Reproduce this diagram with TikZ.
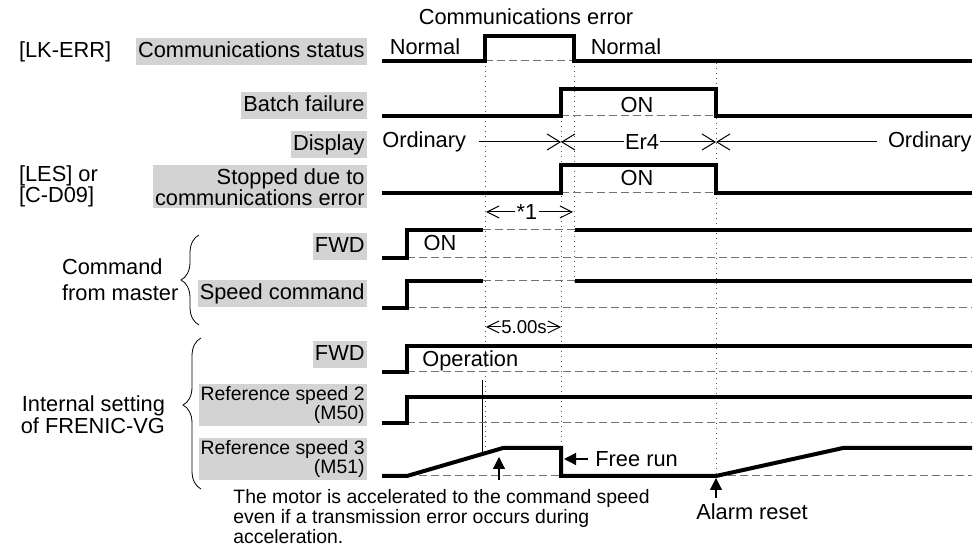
\documentclass[tikz,border=0pt]{standalone}
\usepackage{fontspec}
\setmainfont{Liberation Sans}
\usetikzlibrary{arrows.meta,decorations.pathreplacing}
\definecolor{labelgray}{RGB}{211,211,211}

\begin{document}
\begin{tikzpicture}[x=0.5pt,y=-0.5pt, %1 unit = 1 pixel of the sheet
  font=\fontsize{10.9}{12}\selectfont,
  >={Straight Barb[length=6.5pt,width=8pt]},
  sig/.style={line width=2pt},
  lvl/.style={gray!90!black, line width=0.5pt, dash pattern=on 4pt off 2pt},
  tmark/.style={gray!60!black, line width=0.5pt, dotted},
  lab/.style={fill=labelgray, inner xsep=1pt, inner ysep=1.5pt, anchor=east},
  lab1/.style={lab, text height=0.8em, text depth=0.25em},
  dimline/.style={line width=0.5pt, -{Straight Barb[length=6pt,width=6pt]}},
  note/.style={line width=0.6pt, -{Triangle[length=6pt,width=6pt]}}]
  \useasboundingbox (0,0) rectangle (976,549);

  % Timing marks
  \draw[tmark] (485,61) -- (485,452);
  \draw[tmark] (574,61) -- (574,283);
  \draw[tmark] (561,116) -- (561,448);
  \draw[tmark] (716,63) -- (716,476);
  \draw[line width=0.5pt] (482,380) -- (482,454);

  % Left-hand names
  \node[anchor=west] (lkerr) at (12,52) {[LK-ERR]};
  \node[anchor=west, align=left, font=\fontsize{10.9}{10.5}\selectfont] (les) at (12,186) {[LES] or\\{}[C-D09]};
  \node[lab1] (comm) at (367,52) {Communications status};
  \node[lab1] (batch) at (367,106) {Batch failure};
  \node[lab1] (disp) at (367,145) {Display};
  \node[lab, align=right, font=\fontsize{10.9}{10.5}\selectfont] (stop) at (367,187) {Stopped due to\\communications error};
  \node[lab1] (fwdm) at (367,247) {FWD};
  \node[lab1] (spdm) at (367,294) {Speed command};
  \node[lab1] (fwdi) at (367,355) {FWD};
  \node[lab, align=right, font=\fontsize{9.7}{9.2}\selectfont] (ref2) at (367,405) {Reference speed 2\\(M50)};
  \node[lab, align=right, font=\fontsize{9.7}{9.2}\selectfont] (ref3) at (367,459) {Reference speed 3\\(M51)};

  % Groups
  \draw[decorate, decoration={brace, amplitude=9pt}] (199,325) -- (199,235);
  \node[anchor=west, align=left, font=\fontsize{10.9}{13}\selectfont] (master) at (55,280) {Command\\from master};
  \draw[decorate, decoration={brace, amplitude=9pt, aspect=0.556}] (201,489) -- (201,338);
  \node[anchor=east, align=right, font=\fontsize{10.9}{11}\selectfont] (internal) at (172,415) {Internal setting\\of FRENIC-VG};

  % Communications status
  \node (commerr) at (526,17) {Communications error};
  \draw[lvl] (485,61) -- (574,61);
  \draw[sig] (382,61) -- (485,61) -- (485,36) -- (574,36) -- (574,61) -- (972,61);
  \node (norm1) at (425,47) {Normal};
  \node (norm2) at (626,47) {Normal};

  % Batch failure
  \draw[lvl] (561,116) -- (716,116);
  \draw[sig] (382,116) -- (561,116) -- (561,89) -- (716,89) -- (716,116) -- (972,116);
  \node (bon) at (637,105) {ON};

  % Display
  \node[anchor=west, inner xsep=0pt] (ord1) at (382,142) {Ordinary};
  \node[inner sep=0.5pt] (er4) at (642,142) {Er4};
  \node[anchor=east, inner xsep=0pt] (ord2) at (972,142) {Ordinary};
  \coordinate (d1) at (561,142);
  \coordinate (d2) at (716,142);
  \draw[->, line width=0.5pt, shorten <=6.5pt] (ord1.east) -- (d1);
  \draw[->, line width=0.5pt] (er4) -- (d1);
  \draw[->, line width=0.5pt] (er4) -- (d2);
  \draw[->, line width=0.5pt, shorten <=5.5pt] (ord2.west) -- (d2);

  % Stopped due to communications error
  \draw[lvl] (561,193) -- (716,193);
  \draw[sig] (382,193) -- (561,193) -- (561,165) -- (716,165) -- (716,193) -- (972,193);
  \node (son) at (637,178) {ON};

  % *1
  \node[inner sep=0.5pt] (star) at (527,212) {*1};
  \coordinate (s1l) at (486,212);
  \coordinate (s1r) at (573,212);
  \draw[dimline] (star) -- (s1l);
  \draw[dimline] (star) -- (s1r);

  % FWD from master
  \draw[lvl] (407,258) -- (972,258);
  \draw[lvl] (483,230) -- (575,230);
  \draw[sig] (382,258) -- (407,258) -- (407,230) -- (483,230);
  \draw[sig] (575,230) -- (972,230);
  \node (fon) at (440,243) {ON};

  % Speed command
  \draw[lvl] (407,308) -- (972,308);
  \draw[lvl] (483,281) -- (575,281);
  \draw[sig] (382,308) -- (407,308) -- (407,281) -- (483,281);
  \draw[sig] (575,281) -- (972,281);

  % 5.00s
  \node[inner sep=0pt, font=\fontsize{9.3}{10}\selectfont] (tdelay) at (524,327) {5.00s};
  \coordinate (t1l) at (486,327);
  \coordinate (t1r) at (561,327);
  \draw[dimline] (tdelay) -- (t1l);
  \draw[dimline] (tdelay) -- (t1r);

  % FWD internal
  \draw[lvl] (407,372) -- (972,372);
  \draw[sig] (382,372) -- (407,372) -- (407,346) -- (972,346);
  \node[anchor=west, inner xsep=0pt] (oper) at (422,361) {Operation};

  % Reference speed 2
  \draw[lvl] (407,423) -- (972,423);
  \draw[sig] (382,423) -- (407,423) -- (407,397) -- (972,397);

  % Reference speed 3
  \draw[lvl] (407,476) -- (561,476);
  \draw[lvl] (716,476) -- (972,476);
  \draw[sig] (382,476) -- (407,476) -- (503,448) -- (561,448) -- (561,476) -- (716,476) -- (843,448) -- (972,448);

  % Notes
  \coordinate (m1) at (499,480);
  \coordinate (m2) at (499,457);
  \draw[note] (m1) -- (m2);
  \node[anchor=north west, align=left, inner sep=0pt, font=\fontsize{9.7}{10}\selectfont] (motor) at (233,489) {The motor is accelerated to the command speed\\even if a transmission error occurs during\\acceleration.};
  \node[anchor=west, inner xsep=3.5pt] (free) at (588,459) {Free run};
  \coordinate (fr) at (564,459);
  \draw[note] (free.west) -- (fr);
  \node (alarm) at (752,512) {Alarm reset};
  \coordinate (ar1) at (716,498);
  \coordinate (ar2) at (716,478);
  \draw[note] (ar1) -- (ar2);

\end{tikzpicture}
\end{document}
